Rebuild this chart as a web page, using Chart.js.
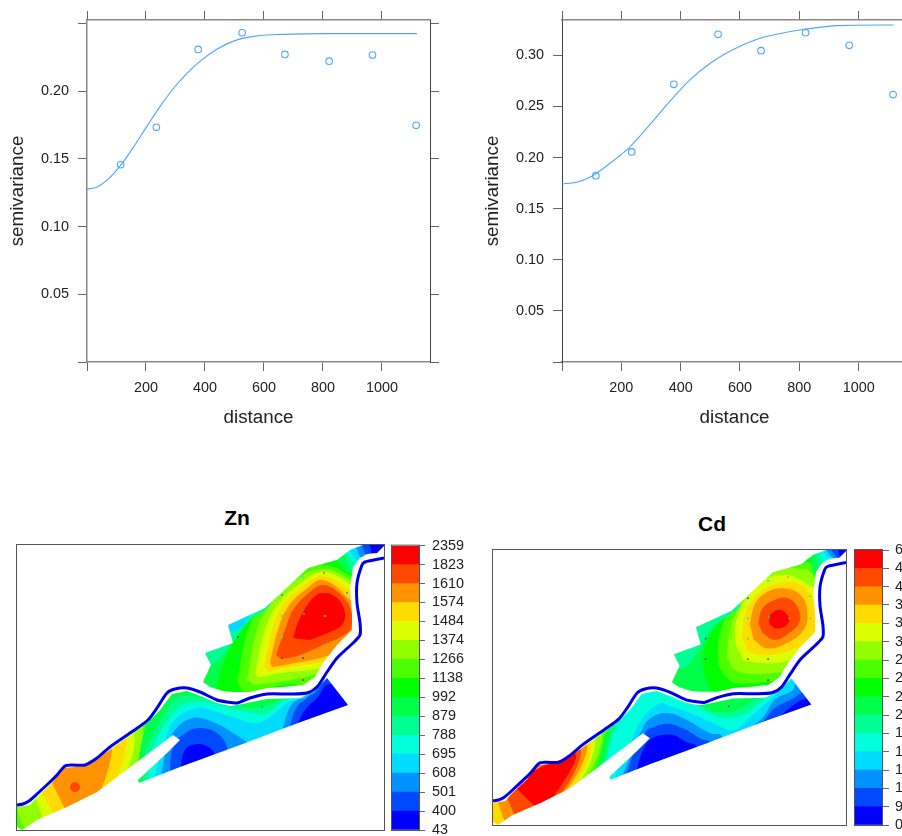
<!DOCTYPE html>
<html lang="en">
<head>
<meta charset="UTF-8">
<title>Zn and Cd semivariograms and kriging maps</title>
<script src="https://cdn.jsdelivr.net/npm/chart.js"></script>
<style>
    html, body { margin: 0; width: 902px; height: 836px; overflow: hidden; background: #fff; }
    canvas, .map-title { position: absolute; }
    .map-title { font: bold 21px "Liberation Sans", Arial, sans-serif; color: #000; transform: translate(-50%, -50%); }
</style>
</head>
<body>
<canvas id="vgZn" width="450" height="440" style="left:0;top:0"></canvas>
<canvas id="vgCd" width="475" height="440" style="left:475px;top:0"></canvas>
<div class="map-title" style="left:237px;top:518px">Zn</div>
<div class="map-title" style="left:712px;top:524px">Cd</div>
<canvas id="mapZn" width="369" height="287" style="left:16px;top:544px"></canvas>
<canvas id="barZn" width="90" height="320" style="left:385px;top:530px"></canvas>
<canvas id="mapCd" width="355" height="277" style="left:492px;top:549px"></canvas>
<canvas id="barCd" width="90" height="310" style="left:848px;top:535px"></canvas>

<script>
// variogram tick values and labels
const distanceTicks = [0, 200, 400, 600, 800, 1000];
const distanceLabels = ["", "200", "400", "600", "800", "1000"];
const znGammaTicks = [0, 0.05, 0.10, 0.15, 0.20, 0.25];
const znGammaLabels = ["", "0.05", "0.10", "0.15", "0.20", ""];
const cdGammaTicks = [0, 0.05, 0.10, 0.15, 0.20, 0.25, 0.30];
const cdGammaLabels = ["", "0.05", "0.10", "0.15", "0.20", "0.25", "0.30"];

// sample variogram points and fitted model
const lagDistance = [114, 235, 377, 526, 671, 821, 968, 1116];
const znGamma = [0.1457, 0.1733, 0.2309, 0.2432, 0.2272, 0.2222, 0.2267, 0.1748];
const cdGamma = [0.1823, 0.2055, 0.2717, 0.3206, 0.3046, 0.3222, 0.3098, 0.2616];
const znModelX = [0, 33, 67, 114, 157, 203, 248, 293, 338, 384, 440, 497, 565, 667, 814, 1119];
const znModelY = [0.1277, 0.1291, 0.1341, 0.1452, 0.1585, 0.1740, 0.1888, 0.2020, 0.2130, 0.2222, 0.2310, 0.2370, 0.2405, 0.2420, 0.2425, 0.2425];
const cdModelX = [0, 48, 94, 162, 230, 297, 365, 433, 501, 569, 660, 728, 818, 931, 1118];
const cdModelY = [0.1742, 0.1758, 0.1807, 0.1944, 0.2107, 0.2325, 0.2555, 0.2765, 0.2925, 0.3045, 0.3160, 0.3209, 0.3255, 0.3291, 0.3297];

// colour key labels, bottom to top
const znKeyLabels = ["43", "400", "501", "608", "695", "788", "879", "992", "1138", "1266", "1374", "1484", "1574", "1610", "1823", "2359"];
const cdKeyLabels = ["0", "9", "1", "1", "1", "1", "2", "2", "2", "2", "3", "3", "3", "4", "4", "6"];
const bandColors = ["#0000FF", "#0049FF", "#0092FF", "#00DBFF", "#00FFDB", "#00FF92", "#00FF49", "#00FF00",
                    "#49FF00", "#92FF00", "#DBFF00", "#FFDB00", "#FF9200", "#FF4900", "#FF0000"];

// map coordinates below: x 17-384, y 545-830 (y runs downwards)
const mapX = [17, 384];
const mapY = [545, 830];
const mapExtent = [[17, 545], [384, 545], [384, 830], [17, 830]];

const river = [[17, 805], [23, 804], [29, 801], [37, 794], [50, 782], [57, 775], [65, 766], [72, 765], [85, 765], [97, 758],
    [110, 747], [133, 731], [148, 720], [157, 708], [167, 693], [175, 689], [187, 688], [200, 692], [217, 700], [227, 702],
    [237, 703], [250, 698], [267, 694], [290, 694], [307, 693], [317, 687], [327, 672], [337, 658], [353, 643], [360, 635],
    [360, 623], [357, 603], [357, 583], [362, 565], [365, 562], [384, 558]];

// white areas outside the kriged region
const outsideAbove = [[17, 545], [363, 545], [350, 550], [337, 560], [308, 568], [265, 608], [228, 625], [233, 643], [205, 653],
    [211, 665], [203, 682], [210, 687], [223, 691], [233, 692], [250, 692], [267, 688], [283, 687], [303, 685], [315, 677],
    [323, 663], [337, 645], [352, 630], [352, 615], [350, 587], [353, 567], [360, 558], [367, 554], [377, 553], [382, 548],
    [384, 546], [384, 830], [348, 705], [327, 678], [313, 692], [300, 698], [267, 699], [237, 705], [230, 706], [217, 703],
    [203, 697], [187, 691], [172, 694], [160, 710], [147, 723], [107, 752], [85, 766], [63, 768], [52, 783], [36, 798], [30, 805], [17, 807]];
const outsideBelow = [[17, 830], [17, 827], [22, 830], [37, 820], [67, 807], [97, 792], [133, 765], [173, 735], [180, 740], [167, 753],
    [138, 780], [139, 783], [180, 767], [240, 745], [298, 723], [348, 705], [384, 700], [384, 830]];

// contour levels as [band, outline]; painted in this order, each on top of the last
const znContours = [
    [8, [[17, 790], [140, 720], [130, 790], [17, 835]]],
    [9, [[17, 808], [137, 722], [125, 785], [30, 830], [22, 825]]],
    [10, [[33, 790], [130, 728], [116, 790], [45, 825]]],
    [11, [[37, 785], [122, 730], [108, 795], [57, 820]]],
    [12, [[48, 775], [109, 738], [94, 805], [68, 815]]],
    [13, [[75, 782], [78, 783], [80, 787], [78, 791], [75, 792], [72, 791], [70, 787], [72, 783]]],
    [8, [[237, 682], [248, 630], [262, 605], [285, 580], [323, 565], [350, 576], [375, 600], [372, 660], [330, 685], [285, 685], [245, 695]]],
    [9, [[247, 680], [257, 630], [270, 605], [293, 582], [323, 569], [352, 581], [375, 600], [370, 655], [325, 672], [290, 680], [255, 685]]],
    [10, [[255, 673], [265, 630], [277, 605], [298, 585], [323, 572], [352, 586], [372, 610], [365, 650], [320, 668], [280, 673], [258, 678]]],
    [11, [[264, 667], [272, 630], [283, 605], [302, 587], [323, 576], [352, 592], [370, 615], [365, 645], [330, 660], [285, 668], [268, 672]]],
    [12, [[270, 662], [278, 630], [288, 607], [305, 590], [323, 580], [348, 598], [365, 620], [360, 640], [330, 655], [285, 665], [272, 667]]],
    [13, [[276, 655], [285, 630], [293, 610], [310, 592], [323, 585], [338, 592], [350, 607], [352, 623], [347, 633], [323, 645], [297, 656], [282, 659]]],
    [14, [[293, 638], [300, 618], [313, 598], [323, 593], [337, 598], [345, 613], [342, 625], [330, 632], [310, 640]]],
    [6, [[215, 700], [218, 680], [228, 653], [240, 630], [258, 605], [280, 585], [303, 570], [310, 545], [190, 545], [190, 700]]],
    [6, [[335, 545], [340, 565], [355, 575], [384, 575], [384, 545]]],
    [6, [[137, 768], [147, 723], [160, 707], [170, 690], [200, 688], [235, 695], [285, 696], [312, 694], [330, 676], [384, 660], [384, 775], [130, 810]]],
    [5, [[200, 665], [215, 663], [232, 643], [250, 620], [270, 605], [268, 590], [200, 590]]],
    [5, [[340, 545], [345, 557], [352, 570], [384, 570], [384, 545]]],
    [5, [[143, 795], [144, 758], [155, 730], [167, 710], [177, 698], [197, 697], [223, 703], [250, 708], [270, 705], [283, 698], [293, 693], [340, 670], [384, 680], [384, 780], [200, 795]]],
    [4, [[200, 640], [222, 640], [238, 622], [258, 612], [258, 590], [200, 590]]],
    [4, [[344, 545], [347, 553], [355, 563], [384, 563], [384, 545]]],
    [4, [[148, 795], [150, 757], [160, 733], [170, 717], [183, 705], [200, 702], [210, 703], [230, 708], [253, 713], [267, 713], [280, 703], [290, 698], [297, 693], [350, 680], [384, 700], [384, 780], [240, 790]]],
    [3, [[220, 632], [238, 630], [250, 615], [250, 600], [220, 600]]],
    [3, [[348, 545], [350, 551], [358, 560], [384, 560], [384, 545]]],
    [3, [[153, 790], [156, 770], [163, 750], [173, 722], [197, 708], [217, 712], [233, 717], [257, 723], [275, 713], [288, 702], [300, 698], [340, 670], [384, 700], [384, 780], [240, 780]]],
    [2, [[354, 545], [356, 547], [362, 558], [384, 558], [384, 545]]],
    [2, [[160, 790], [165, 755], [175, 730], [193, 718], [213, 722], [233, 733], [248, 745], [250, 770]]],
    [2, [[283, 727], [290, 707], [297, 700], [305, 698], [340, 670], [384, 700], [384, 760], [290, 750]]],
    [1, [[360, 545], [362, 546], [367, 555], [384, 555], [384, 545]]],
    [1, [[170, 785], [173, 747], [187, 732], [200, 728], [217, 733], [227, 747], [230, 770]]],
    [1, [[290, 725], [297, 707], [307, 698], [318, 690], [327, 676], [384, 700], [384, 760], [295, 745]]],
    [0, [[368, 545], [370, 546], [372, 553], [384, 553], [384, 545]]],
    [0, [[180, 775], [185, 750], [198, 744], [210, 748], [215, 755], [220, 775]]],
    [0, [[298, 723], [305, 710], [317, 698], [330, 684], [384, 700], [384, 760], [300, 740]]]
];

const cdContours = [
    [8, [[17, 794], [132, 728], [118, 778], [17, 838]]],
    [9, [[17, 794], [126, 733], [111, 783], [17, 838]]],
    [10, [[17, 794], [119, 738], [104, 788], [17, 838]]],
    [11, [[17, 794], [115, 742], [99, 792], [17, 838]]],
    [12, [[19, 797], [112, 745], [92, 795], [31, 832]]],
    [13, [[28, 794], [106, 750], [87, 799], [42, 825]]],
    [14, [[36, 787], [102, 756], [80, 801], [64, 814]]],
    [8, [[251, 664], [253, 631], [269, 600], [305, 562], [340, 557], [354, 566], [357, 628], [329, 676], [305, 681], [270, 683], [258, 676]]],
    [9, [[260, 656], [264, 625], [279, 593], [302, 568], [329, 564], [350, 571], [357, 628], [333, 666], [305, 673], [281, 673], [267, 669]]],
    [10, [[269, 642], [270, 618], [284, 590], [303, 574], [322, 571], [340, 578], [354, 590], [355, 631], [340, 652], [319, 661], [295, 662], [277, 659]]],
    [11, [[276, 635], [279, 611], [293, 590], [312, 580], [335, 580], [348, 593], [352, 618], [350, 631], [336, 645], [316, 652], [295, 654], [281, 649]]],
    [12, [[284, 621], [290, 600], [303, 588], [322, 585], [338, 593], [344, 611], [340, 628], [322, 642], [302, 647], [288, 638]]],
    [13, [[293, 621], [297, 606], [309, 597], [324, 595], [335, 607], [335, 621], [322, 633], [309, 638], [297, 631]]],
    [14, [[305, 612], [314, 607], [322, 611], [325, 618], [319, 625], [310, 626], [304, 621]]],
    [6, [[244, 692], [236, 669], [238, 642], [258, 612], [277, 593], [305, 566], [319, 545], [201, 545], [201, 692]]],
    [6, [[347, 545], [348, 559], [355, 576], [384, 576], [384, 545]]],
    [6, [[124, 775], [140, 722], [155, 708], [170, 690], [200, 690], [235, 696], [285, 696], [313, 690], [330, 670], [384, 660], [384, 775]]],
    [5, [[201, 669], [217, 666], [231, 649], [243, 628], [264, 611], [274, 602], [270, 545], [201, 545]]],
    [5, [[351, 545], [354, 559], [359, 569], [384, 569], [384, 545]]],
    [5, [[130, 790], [133, 764], [144, 725], [153, 714], [167, 699], [184, 694], [212, 700], [218, 702], [232, 707], [250, 713], [270, 711], [288, 700], [302, 692], [317, 683], [329, 676], [384, 680], [384, 790]]],
    [4, [[355, 545], [359, 555], [364, 562], [384, 562], [384, 545]]],
    [4, [[135, 790], [135, 762], [149, 719], [167, 697], [184, 690], [201, 690], [218, 700], [225, 704], [253, 718], [277, 716], [291, 706], [305, 694], [317, 685], [326, 678], [333, 678], [384, 700], [384, 790]]],
    [3, [[360, 545], [364, 552], [384, 558], [384, 545]]],
    [3, [[144, 790], [144, 781], [149, 766], [161, 742], [173, 718], [191, 704], [198, 706], [220, 713], [250, 726], [267, 732], [281, 721], [295, 709], [312, 694], [326, 681], [333, 678], [384, 700], [384, 790]]],
    [2, [[364, 545], [369, 552], [384, 558], [384, 545]]],
    [2, [[153, 775], [160, 759], [170, 735], [180, 720], [198, 714], [218, 721], [243, 735], [255, 738], [260, 770], [150, 790]]],
    [2, [[281, 732], [298, 718], [310, 700], [329, 690], [333, 680], [384, 700], [384, 790], [270, 790]]],
    [1, [[369, 545], [373, 551], [384, 558], [384, 545]]],
    [1, [[156, 776], [165, 752], [177, 732], [180, 730], [198, 725], [215, 730], [232, 740], [243, 745], [245, 780], [155, 790]]],
    [1, [[296, 725], [310, 709], [329, 699], [342, 692], [384, 700], [384, 790], [290, 790]]],
    [0, [[376, 545], [378, 552], [384, 558], [384, 545]]],
    [0, [[167, 771], [173, 752], [180, 742], [191, 737], [205, 737], [218, 744], [229, 749], [230, 770], [165, 785]]],
    [0, [[314, 719], [329, 706], [343, 699], [355, 700], [355, 725], [315, 740]]]
];

// sample locations shown as tiny dots, with the band each one falls in
const sampleSites = [[238, 637], [238, 658], [282, 658], [303, 658], [282, 637], [282, 616], [304, 614], [325, 616], [347, 616], [282, 595], [347, 593], [324, 573], [303, 680], [262, 707], [303, 577]];
const znSampleBands = [1, 3, 14, 1, 5, 3, 8, 8, 13, 2, 2, 13, 14, 2, 4];
const cdSampleBands = [1, 1, 14, 1, 7, 3, 7, 12, 12, 1, 7, 12, 14, 1, 3];

const FONT = "'Liberation Sans', Arial, sans-serif";
const pairs = list => list.map(p => ({ x: p[0], y: p[1] }));

// thin box round the plot area, drawn on top of the datasets
function framePlugin(color) {
    return {
        id: "frame",
        afterDatasetsDraw(chart) {
            const a = chart.chartArea;
            const ctx = chart.ctx;
            ctx.save();
            ctx.strokeStyle = color;
            ctx.lineWidth = 1;
            ctx.strokeRect(a.left - 0.5, a.top - 0.5, a.right - a.left + 1, a.bottom - a.top + 1);
            ctx.restore();
        }
    };
}

function createVariogram(id, points, modelX, modelY, gammaTicks, gammaLabels, gammaMax, pad) {
    const tickOpts = { color: "#222", font: { family: FONT, size: 14.4 }, autoSkip: false, maxRotation: 0 };
    const axisGrid = { drawOnChartArea: false, tickLength: 9, color: "#666" };
    const setTicks = values => scale => { scale.ticks = values.map(v => ({ value: v })); };
    new Chart(document.getElementById(id), {
        type: "scatter",
        data: {
            datasets: [
                { data: points, showLine: false, pointRadius: 3.3, pointBorderWidth: 1.1, pointBorderColor: "#4da6ff", pointBackgroundColor: "rgba(0,0,0,0)" },
                { data: modelX.map((x, i) => ({ x: x, y: modelY[i] })), showLine: true, pointRadius: 0, borderColor: "#4da6ff", borderWidth: 1.1, cubicInterpolationMode: "monotone" }
            ]
        },
        options: {
            responsive: false,
            animation: false,
            layout: { padding: { left: pad.left, right: pad.right, top: 0, bottom: 0 } },
            plugins: { legend: { display: false }, tooltip: { enabled: false } },
            scales: {
                x: {
                    min: 0, max: 1163, position: "bottom",
                    grid: axisGrid, border: { color: "#888", width: 1.5 },
                    afterBuildTicks: setTicks(distanceTicks),
                    afterFit: s => { s.height = 78; },
                    ticks: { ...tickOpts, padding: 8, callback: (v, i) => distanceLabels[i] },
                    title: { display: true, text: "distance", color: "#222", font: { family: FONT, size: 18.8 }, padding: { top: 0, bottom: 11 } }
                },
                x2: {
                    min: 0, max: 1163, position: "top",
                    grid: axisGrid, border: { color: "#888", width: 1.5 },
                    afterBuildTicks: setTicks(distanceTicks),
                    afterFit: s => { s.height = 20; },
                    ticks: { ...tickOpts, padding: 0, callback: () => "" }
                },
                y: {
                    min: 0, max: gammaMax, position: "left",
                    grid: axisGrid, border: { color: pad.leftColor, width: pad.leftWidth },
                    afterBuildTicks: setTicks(gammaTicks),
                    afterFit: s => { s.width = 87; },
                    ticks: { ...tickOpts, padding: 9, callback: (v, i) => gammaLabels[i] },
                    title: { display: true, text: "semivariance", color: "#222", font: { family: FONT, size: 18.8 }, padding: { top: 7, bottom: 0 } }
                },
                y2: {
                    min: 0, max: gammaMax, position: "right",
                    grid: axisGrid, border: { color: "#444", width: 1 },
                    afterBuildTicks: setTicks(gammaTicks),
                    afterFit: s => { s.width = 10; },
                    ticks: { ...tickOpts, padding: 0, callback: () => "" }
                }
            }
        }
    });
}

function createMap(id, contours, sampleBands) {
    const solid = (list, color, tension) => ({ data: pairs(list), showLine: true, fill: "shape", backgroundColor: color, borderWidth: 0, pointRadius: 0, tension: tension });
    // paint order, later entries end up on top
    const layers = [solid(mapExtent, bandColors[7], 0)];
    contours.forEach(c => layers.push(solid(c[1], bandColors[c[0]], 0.4)));
    layers.push(solid(outsideAbove, "#fff", 0), solid(outsideBelow, "#fff", 0));
    layers.push({ data: pairs(sampleSites), showLine: false, pointRadius: 0.9, pointBorderWidth: 0, pointBackgroundColor: sampleBands.map(b => bandColors[b]) });
    layers.push({ data: pairs(river), showLine: true, fill: false, borderColor: "#0000E6", borderWidth: 3, pointRadius: 0, tension: 0.25 });
    new Chart(document.getElementById(id), {
        type: "scatter",
        data: { datasets: layers.reverse() },
        options: {
            responsive: false,
            animation: false,
            layout: { autoPadding: false, padding: 1 },
            plugins: { legend: { display: false }, tooltip: { enabled: false } },
            scales: {
                x: { display: false, min: mapX[0], max: mapX[1] },
                y: { display: false, min: mapY[0], max: mapY[1], reverse: true }
            }
        },
        plugins: [framePlugin("#555")]
    });
}

function createKey(id, labels, pad, tickLength, labelGap) {
    new Chart(document.getElementById(id), {
        type: "bar",
        data: {
            labels: [""],
            datasets: bandColors.map(color => ({ data: [1], backgroundColor: color, categoryPercentage: 1, barPercentage: 1 }))
        },
        options: {
            responsive: false,
            animation: false,
            layout: { padding: pad },
            plugins: { legend: { display: false }, tooltip: { enabled: false } },
            scales: {
                x: { display: false, stacked: true },
                y: {
                    stacked: true, min: 0, max: 15, position: "right",
                    grid: { drawOnChartArea: false, tickLength: tickLength, color: "#666" },
                    border: { display: false },
                    afterFit: s => { s.width = 56; },
                    ticks: { stepSize: 1, autoSkip: false, padding: labelGap, color: "#222", font: { family: FONT, size: 14.4 }, callback: (v, i) => labels[i] }
                }
            }
        },
        plugins: [framePlugin("#555")]
    });
}

createVariogram("vgZn", lagDistance.map((x, i) => ({ x: x, y: znGamma[i] })), znModelX, znModelY, znGammaTicks, znGammaLabels, 0.2526,
    { left: 0, right: 10, leftColor: "#888", leftWidth: 1.5 });
createVariogram("vgCd", lagDistance.map((x, i) => ({ x: x, y: cdGamma[i] })), cdModelX, cdModelY, cdGammaTicks, cdGammaLabels, 0.3346,
    { left: 0, right: 33, leftColor: "#444", leftWidth: 1 });
createMap("mapZn", znContours, znSampleBands);
createMap("mapCd", cdContours, cdSampleBands);
createKey("barZn", znKeyLabels, { left: 7, right: 0, top: 15, bottom: 20 }, 6, 7);
createKey("barCd", cdKeyLabels, { left: 7, right: 0, top: 15, bottom: 20 }, 7, 6);
</script>
</body>
</html>
